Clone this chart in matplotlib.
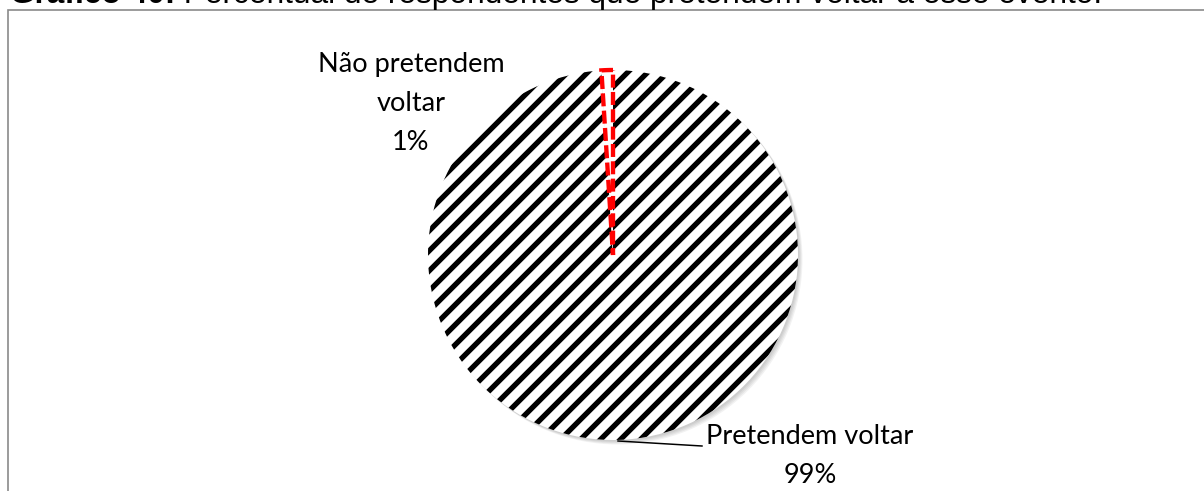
import numpy as np
import matplotlib
matplotlib.use("Agg")
import matplotlib.pyplot as plt
from matplotlib.patches import Rectangle, Circle

DPI = 120
plt.rcParams["hatch.linewidth"] = 3.2

categories = ["Pretendem voltar", "Não pretendem voltar"]
values = [99, 1]
title_bold = "Gráfico 40:"
title_rest = " Percentual de respondentes que pretendem voltar a esse evento."

W, H = 1204, 491
fig = plt.figure(figsize=(W / DPI, H / DPI), dpi=DPI)
ax = fig.add_axes([0, 0, 1, 1])

# chart frame (only top/left edges are inside the picture)
ax.add_patch(Rectangle((8, -20), W + 40, H - 10 + 20, fill=False,
                       edgecolor="#8a8a8a", lw=1.0))

cx, cy, r = 613, H - 255, 185
# soft shadow on the lower right
for i in range(4):
    ax.add_patch(Circle((cx + 1.5 + i, cy - 1.5 - i), r, color="black",
                        alpha=0.05, lw=0, zorder=1))

wedges, _ = ax.pie(values, startangle=90, counterclock=False, center=(cx, cy),
                   radius=r, frame=True,
                   wedgeprops=dict(facecolor="white", edgecolor="black",
                                   hatch="//", linewidth=0))
for w in wedges:
    w.set_zorder(2)
wedges[1].set_hatch(None)
wedges[1].set_facecolor("white")
wedges[1].set_edgecolor("#ff0000")
wedges[1].set_linestyle((0, (3, 1.0)))
wedges[1].set_linewidth(2.6)
wedges[1].set_zorder(3)
ax.set_xlim(0, W); ax.set_ylim(0, H)
ax.set_aspect("auto")
ax.axis("off")

lab_font = dict(family=["Lato", "DejaVu Sans"], fontsize=16.3, color="black",
                ha="center", va="center", linespacing=1.7)
total = sum(values)
ax.text(411, H - 103, "Não pretendem\nvoltar\n" + f"{values[1] / total:.0%}",
        **lab_font)
ax.text(810, H - 456, categories[0] + "\n" + f"{values[0] / total:.0%}",
        **lab_font)
ax.plot([618, 702], [H - 441, H - 446], color="black", lw=0.9, zorder=4)

t = fig.text(10 / W, 1 - 3 / H, title_bold, fontsize=19, fontweight="bold",
             family="Liberation Sans", va="baseline", ha="left")
fig.canvas.draw()
ax.annotate(title_rest, xy=(1, 0), xycoords=t, fontsize=19,
            family="Liberation Sans", va="bottom", ha="left",
            annotation_clip=False)

fig.savefig("out.png", dpi=DPI, facecolor="white")
